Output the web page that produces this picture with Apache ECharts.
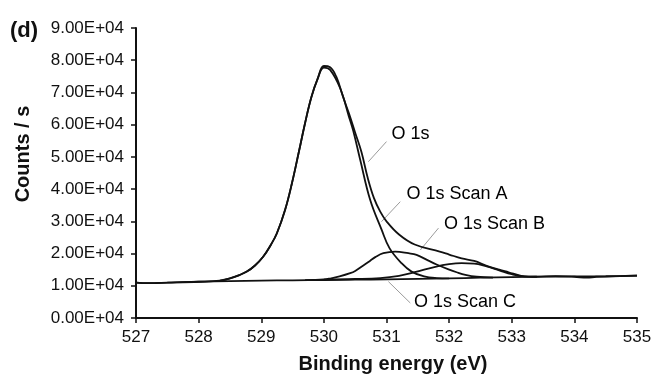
<!DOCTYPE html>
<html>
<head>
<meta charset="utf-8">
<script src="https://cdn.jsdelivr.net/npm/echarts@6/dist/echarts.min.js"></script>
<style>
  html, body { margin: 0; padding: 0; background: #fff; }
  #main { width: 654px; height: 376px; }
</style>
</head>
<body>
<div id="main"></div>
<script>
// values (binding energy in eV, counts / s)
var bgEnergy = [527, 527.2, 527.5, 528, 528.5, 529, 529.5, 530, 530.5, 531, 531.5, 532, 532.5, 533, 533.5, 534, 534.5, 535];
var bgCounts = [11000, 10800, 10950, 11250, 11450, 11600, 11700, 11800, 11900, 12000, 12150, 12300, 12500, 12700, 12850, 12900, 12950, 13100];

var o1sEnergy = [527, 527.2, 527.5, 528, 528.34, 528.5, 528.65, 528.77, 528.9, 529.03, 529.15, 529.25, 529.38, 529.49, 529.6, 529.7,
  529.8, 529.9, 530.0, 530.1, 530.2, 530.3, 530.4, 530.5, 530.6, 530.7, 530.8, 530.9, 531.0, 531.2, 531.45, 531.85, 532.0, 532.2,
  532.4, 532.6, 532.8, 532.95, 533.15, 533.4, 533.7, 534.0, 534.2, 534.35, 534.6, 535];
var o1sCounts = [11000, 10800, 10950, 11250, 11600, 12300, 13300, 14400, 16300, 19000, 22600, 26300, 33500, 41800, 51500, 60500,
  68500, 74200, 78200, 77800, 74800, 69000, 63500, 57500, 51500, 43500, 37200, 33000, 30000, 25900, 22800, 20600, 19700, 18500,
  17700, 16200, 15000, 14200, 13100, 12800, 13000, 12800, 12500, 12800, 12900, 13200];

var scanAEnergy = [528.34, 528.5, 528.65, 528.77, 528.9, 529.03, 529.15, 529.25, 529.38, 529.49, 529.6, 529.7, 529.8, 529.9, 530.0,
  530.1, 530.26, 530.4, 530.47, 530.58, 530.74, 530.92, 531.05, 531.24, 531.4, 531.6, 531.8, 532.0];
var scanACounts = [11600, 12300, 13300, 14400, 16300, 19000, 22600, 26300, 33500, 41800, 51500, 60500, 68500, 74200, 77700,
  77000, 71300, 62500, 58000, 49100, 36600, 27500, 21600, 17000, 14400, 12900, 12400, 12300];

var scanBEnergy = [529.7, 530.0, 530.1, 530.25, 530.42, 530.5, 530.63, 530.74, 530.82, 530.95, 531.14, 531.35, 531.48, 531.67, 531.8,
  531.99, 532.12, 532.26, 532.44, 532.7];
var scanBCounts = [11750, 11950, 12250, 12900, 13900, 14600, 16300, 17800, 18900, 20100, 20600, 20100, 19600, 17800, 16600,
  15100, 14200, 13400, 12800, 12500];

var scanCEnergy = [530.0, 530.5, 530.9, 531.2, 531.45, 531.78, 532.0, 532.2, 532.4, 532.6, 532.8, 533.0, 533.2, 533.4];
var scanCCounts = [11900, 12100, 12400, 13100, 14200, 15900, 16700, 17000, 16900, 16000, 14800, 13600, 12900, 12800];

// callout labels and their leader lines
var calloutNames = ['O 1s', 'O 1s Scan A', 'O 1s Scan B', 'O 1s Scan C'];
var calloutAt = [[531.03, 57100], [531.27, 38500], [531.87, 29200], [531.39, 4970]];
var leaderFrom = [[531.00, 54750], [531.22, 36100], [531.83, 27900], [531.38, 4660]];
var leaderTo = [[530.71, 48500], [530.92, 29900], [531.54, 21100], [531.03, 11300]];

var xTicks = { min: 527, max: 535, interval: 1 };
var yTicks = { min: 0, max: 90000, interval: 10000 };

var chartDom = document.getElementById('main');
var myChart = echarts.init(chartDom);
var font = 'Liberation Sans, Arial, sans-serif';
var ink = '#111';

function pairs(xs, ys) {
  return xs.map(function (x, i) { return [x, ys[i]]; });
}

function curve(name, xs, ys) {
  return {
    name: name,
    type: 'line',
    data: pairs(xs, ys),
    smooth: 0.4,
    showSymbol: false,
    silent: true,
    lineStyle: { color: ink, width: 1.8 },
    z: 3
  };
}

var option = {
  animation: false,
  title: {
    text: '(d)',
    left: 5,
    top: 15,
    textStyle: { fontFamily: font, fontSize: 22, fontWeight: 'bold', color: ink }
  },
  grid: { left: 136, right: 17, top: 28, bottom: 58, outerBoundsMode: 'none', containLabel: false },
  xAxis: {
    type: 'value',
    min: xTicks.min,
    max: xTicks.max,
    interval: xTicks.interval,
    name: 'Binding energy (eV)',
    nameLocation: 'middle',
    nameGap: 36,
    nameTextStyle: { fontFamily: font, fontSize: 20, fontWeight: 'bold', color: ink, padding: [0, 0, 0, 13] },
    axisLine: { onZero: false, lineStyle: { color: ink, width: 2 } },
    axisTick: { length: 5, lineStyle: { color: ink, width: 1.5 } },
    axisLabel: { margin: 11, fontFamily: font, fontSize: 17, color: ink },
    splitLine: { show: false }
  },
  yAxis: {
    type: 'value',
    min: yTicks.min,
    max: yTicks.max,
    interval: yTicks.interval,
    name: 'Counts / s',
    nameLocation: 'middle',
    nameGap: 103,
    nameTextStyle: { fontFamily: font, fontSize: 20, fontWeight: 'bold', color: ink, padding: [0, 0, 0, 38] },
    axisLine: { show: true, lineStyle: { color: ink, width: 2 } },
    axisTick: { show: true, length: 5, lineStyle: { color: ink, width: 1.5 } },
    axisLabel: {
      margin: 12,
      fontFamily: font,
      fontSize: 17,
      color: ink,
      formatter: function (v) { return (v / 10000).toFixed(2) + 'E+04'; }
    },
    splitLine: { show: false }
  },
  series: [
    curve('Background', bgEnergy, bgCounts),
    curve('O 1s', o1sEnergy, o1sCounts),
    curve('O 1s Scan A', scanAEnergy, scanACounts),
    curve('O 1s Scan B', scanBEnergy, scanBCounts),
    curve('O 1s Scan C', scanCEnergy, scanCCounts),
    {
      type: 'lines',
      coordinateSystem: 'cartesian2d',
      silent: true,
      lineStyle: { color: '#9a9a9a', width: 1, opacity: 1 },
      data: leaderFrom.map(function (p, i) { return { coords: [p, leaderTo[i]] }; }),
      z: 2
    },
    {
      type: 'scatter',
      symbolSize: 0,
      silent: true,
      itemStyle: { opacity: 1 },
      data: calloutAt.map(function (p, i) { return [p[0], p[1], calloutNames[i]]; }),
      label: {
        show: true,
        position: 'right',
        distance: 3,
        opacity: 1,
        fontFamily: font,
        fontSize: 18,
        color: '#000',
        formatter: function (p) { return p.value[2]; }
      },
      z: 4
    }
  ]
};

myChart.setOption(option);
</script>
</body>
</html>
